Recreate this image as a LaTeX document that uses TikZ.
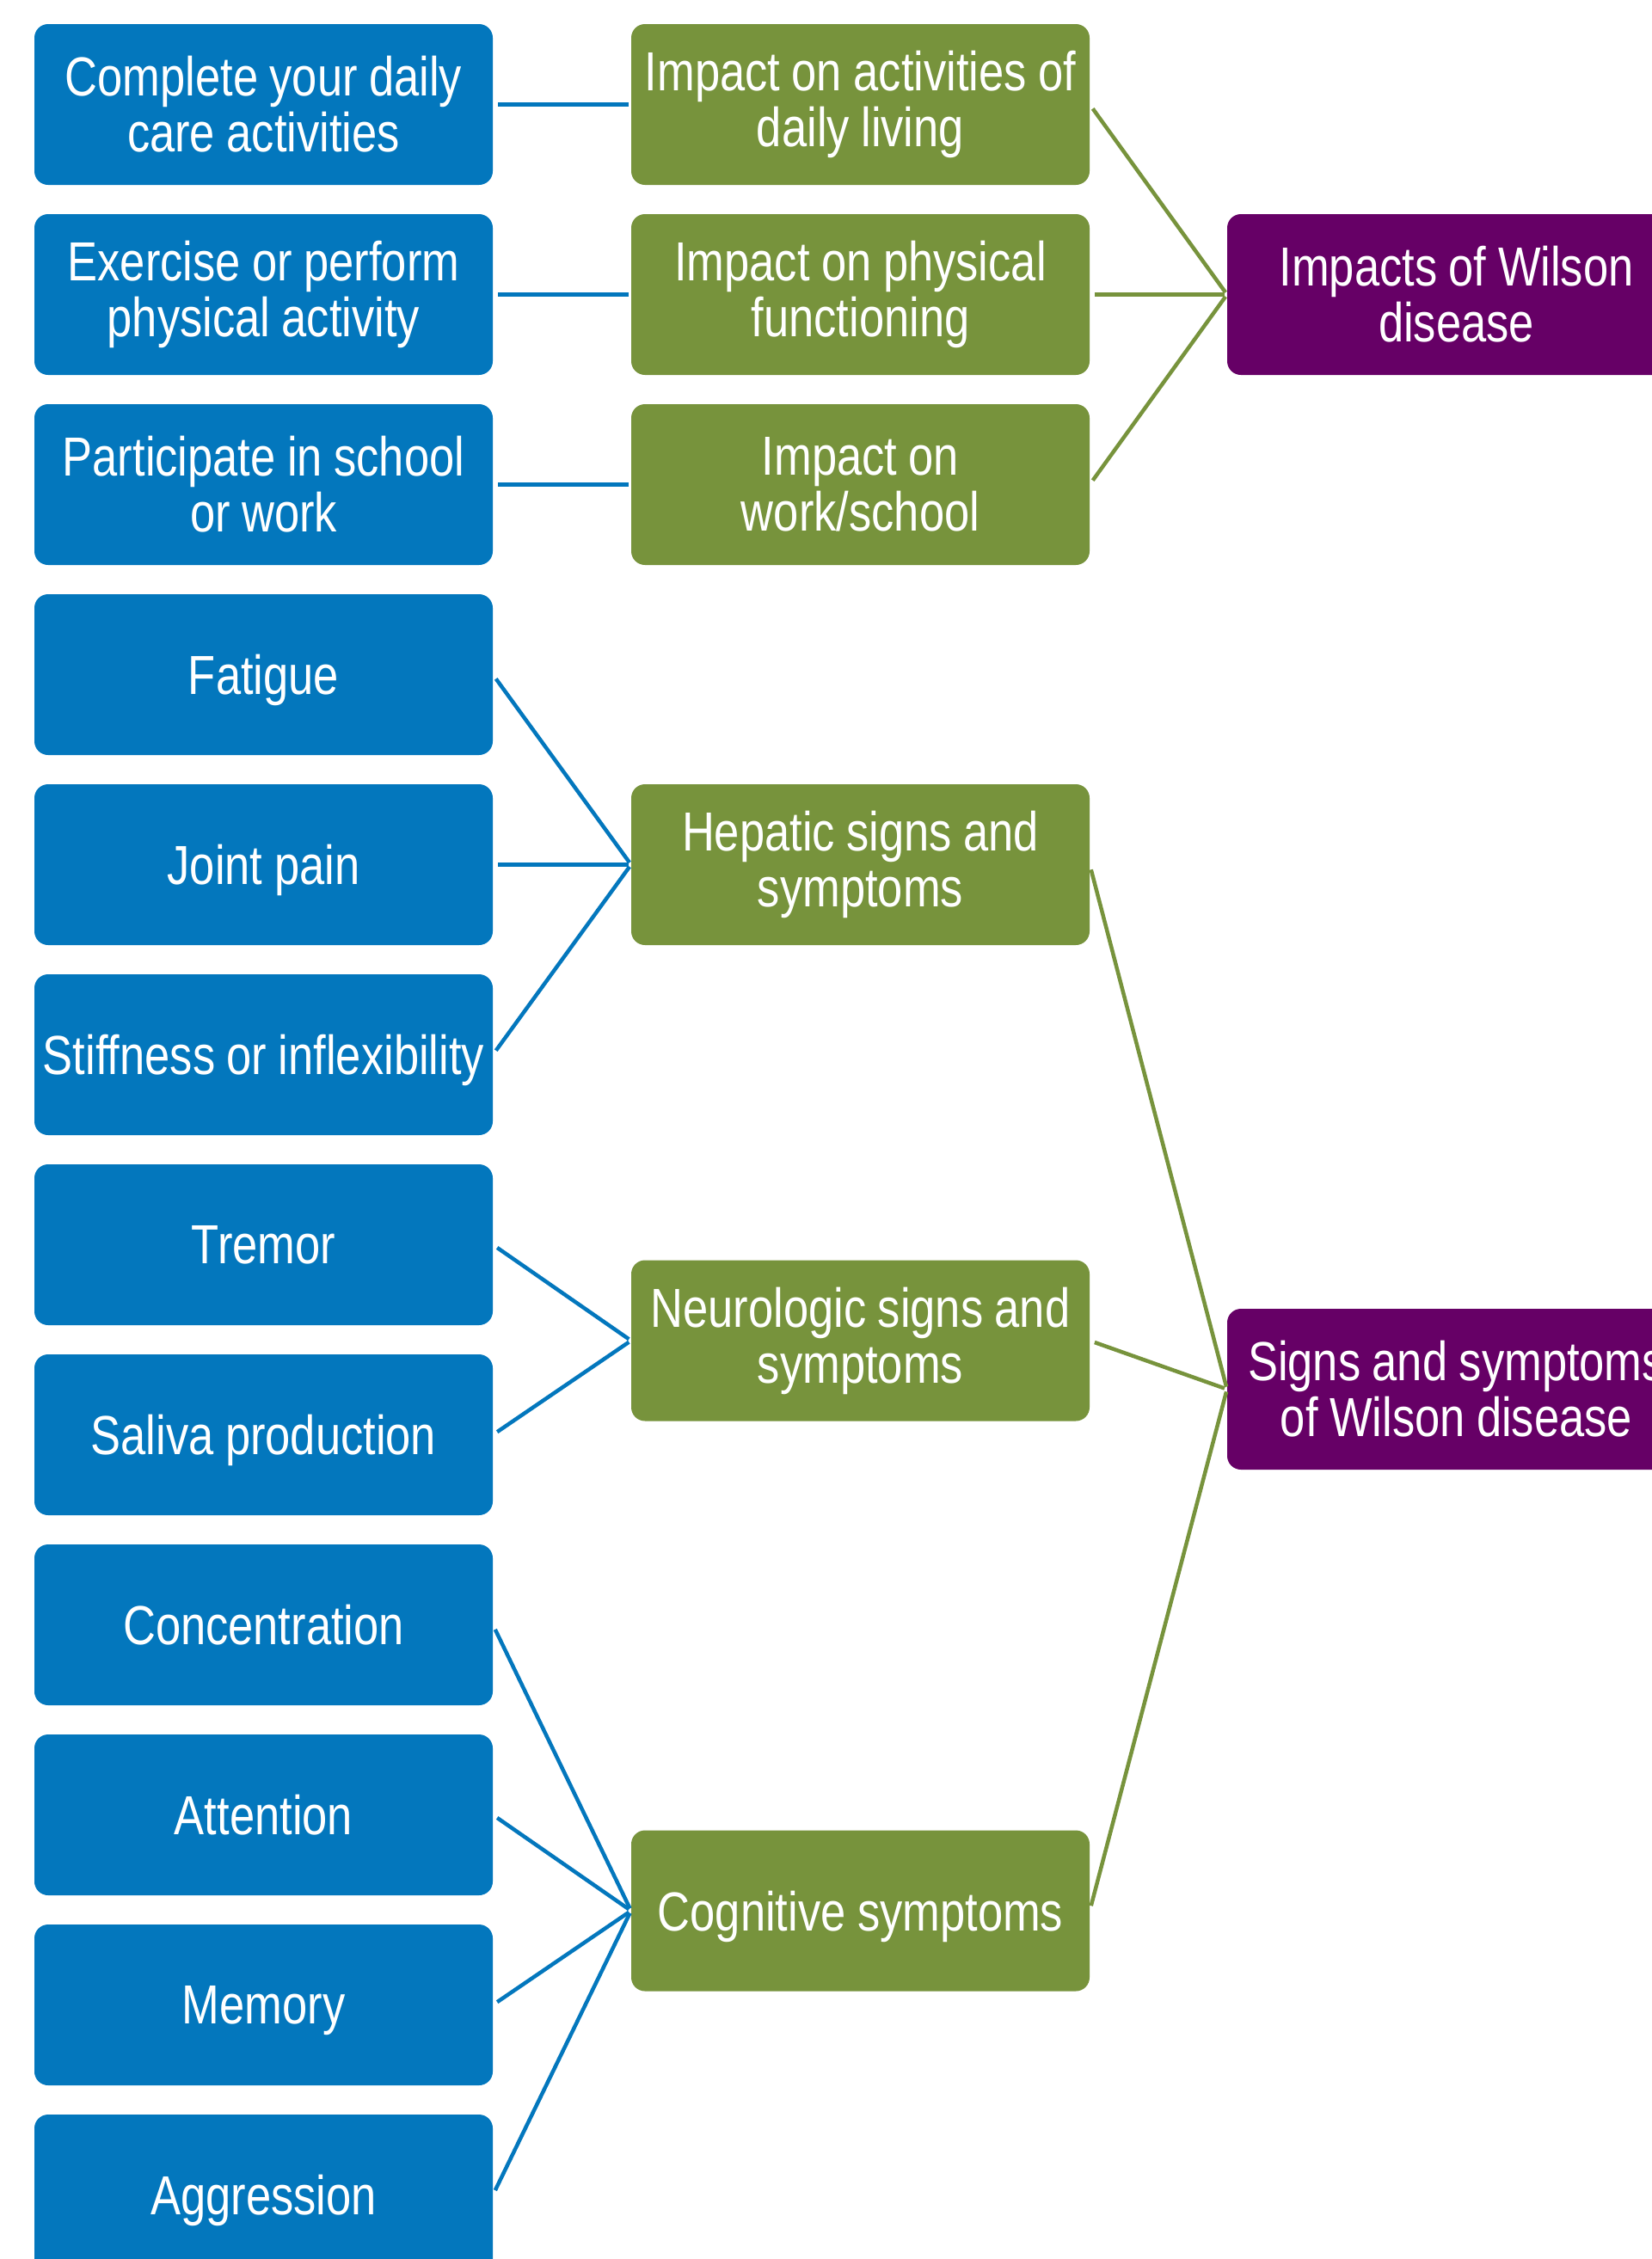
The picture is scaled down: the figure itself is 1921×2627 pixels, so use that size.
\documentclass[tikz,border=0pt]{standalone}
\usepackage{fontspec}
\setmainfont{Liberation Sans}[FakeStretch=0.82]
\definecolor{wblue}{RGB}{3,119,189}
\definecolor{wgreen}{RGB}{119,147,60}
\definecolor{wpurple}{RGB}{102,0,102}
\tikzset{
  box/.style={rounded corners=16pt, minimum width=533pt, minimum height=187pt,
    inner sep=0pt, text width=533pt, align=center, text=white,
    font=\fontsize{64}{65}\selectfont,
    execute at begin node={\spaceskip=13.5pt\relax}},
  oneline/.style={text depth=0pt},
  bluebox/.style={box, fill=wblue},
  greenbox/.style={box, fill=wgreen},
  purplebox/.style={box, fill=wpurple},
  blueline/.style={draw=wblue, line width=4.5pt, shorten <=6pt, shorten >=3pt},
  greenline/.style={draw=wgreen, line width=4.5pt, shorten <=6pt, shorten >=3pt}
}
\begin{document}
\begin{tikzpicture}[x=1pt,y=-1pt]
\clip (0,0) rectangle (1921,2627);
\fill[white] (0,0) rectangle (1921,2627);
% blue column
\node[bluebox] (b1) at (306.5,121.5) {Complete your daily\\care activities};
\node[bluebox] (b2) at (306.5,342.5) {Exercise or perform\\physical activity};
\node[bluebox] (b3) at (306.5,563.5) {Participate in school\\or work};
\node[bluebox,oneline] (b4) at (306.5,784.5) {Fatigue};
\node[bluebox,oneline] (b5) at (306.5,1005.5) {Joint pain};
\node[bluebox,oneline] (b6) at (306.5,1226.5) {Stiffness or inflexibility};
\node[bluebox,oneline] (b7) at (306.5,1447.5) {Tremor};
\node[bluebox,oneline] (b8) at (306.5,1668.5) {Saliva production};
\node[bluebox,oneline] (b9) at (306.5,1889.5) {Concentration};
\node[bluebox,oneline] (b10) at (306.5,2110.5) {Attention};
\node[bluebox,oneline] (b11) at (306.5,2331.5) {Memory};
\node[bluebox,oneline] (b12) at (306.5,2552.5) {Aggression};
% green column
\node[greenbox] (g1) at (1000.5,121.5) {Impact on activities of\\daily living};
\node[greenbox] (g2) at (1000.5,342.5) {Impact on physical\\functioning};
\node[greenbox] (g3) at (1000.5,563.5) {Impact on\\work/school};
\node[greenbox] (g4) at (1000.5,1005.5) {Hepatic signs and\\symptoms};
\node[greenbox] (g5) at (1000.5,1559) {Neurologic signs and\\symptoms};
\node[greenbox,oneline] (g6) at (1000.5,2222) {Cognitive symptoms};
% purple column
\node[purplebox] (p1) at (1693.5,342.5) {Impacts of Wilson\\disease};
\node[purplebox] (p2) at (1693.5,1615.5) {Signs and symptoms\\of Wilson disease};
% blue connectors
\draw[blueline] (b1.east) -- (g1.west);
\draw[blueline] (b2.east) -- (g2.west);
\draw[blueline] (b3.east) -- (g3.west);
\draw[blueline] (b4.east) -- (g4.west);
\draw[blueline] (b5.east) -- (g4.west);
\draw[blueline] (b6.east) -- (g4.west);
\draw[blueline] (b7.east) -- (g5.west);
\draw[blueline] (b8.east) -- (g5.west);
\draw[blueline] (b9.east) -- (g6.west);
\draw[blueline] (b10.east) -- (g6.west);
\draw[blueline] (b11.east) -- (g6.west);
\draw[blueline] (b12.east) -- (g6.west);
% green connectors
\draw[greenline] (g1.east) -- (p1.west);
\draw[greenline] (g2.east) -- (p1.west);
\draw[greenline] (g3.east) -- (p1.west);
\draw[greenline] (g4.east) -- (p2.west);
\draw[greenline] (g5.east) -- (p2.west);
\draw[greenline] (g6.east) -- (p2.west);
\end{tikzpicture}
\end{document}
